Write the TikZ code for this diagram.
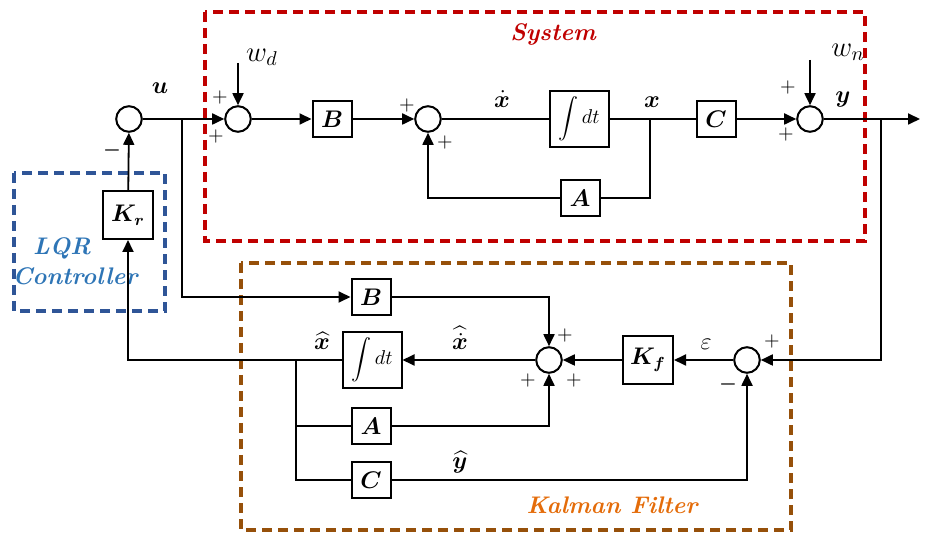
\documentclass[tikz,border=0pt]{standalone}
\usepackage{amsmath,amssymb,bm}
\usepackage{xcolor}
\usetikzlibrary{arrows.meta,positioning}
\definecolor{sysred}{RGB}{192,0,0}
\definecolor{lqrblue}{RGB}{47,85,151}
\definecolor{lqrtext}{RGB}{46,117,182}
\definecolor{kfbrown}{RGB}{150,80,10}
\definecolor{kftext}{RGB}{228,108,10}

\begin{document}
\begin{tikzpicture}[
    x=0.5pt, y=-0.5pt,
    >={Triangle[length=6pt,width=5.5pt]},
    blk/.style={draw, line width=1pt, minimum width=19.5pt, minimum height=18pt,
                inner sep=0pt, font=\large},
    bigblk/.style={blk, minimum width=25pt, minimum height=24pt},
    intblk/.style={blk, minimum width=29.5pt, minimum height=28pt, font=\normalsize},
    sumj/.style={draw, circle, line width=1pt, minimum size=12.8pt, inner sep=0pt},
    sig/.style={line width=0.9pt},
    frame/.style={line width=1.6pt, dash pattern=on 5pt off 3pt},
    sgn/.style={inner sep=0pt, font=\normalsize},
    lbl/.style={inner sep=0pt, font=\large},
    title/.style={inner sep=0pt, font=\large\bfseries\itshape}
]
\useasboundingbox (0,0) rectangle (925,533);

% --- Dashed frames ---
\draw[frame, sysred]  (205,12)  rectangle (865,241);
\draw[frame, lqrblue] (14,173)  rectangle (165,311);
\draw[frame, kfbrown] (241,263) rectangle (791,530);
\node[title, text=sysred]  (tsys) at (553,34)  {System};
\node[title, text=lqrtext] (tlqr) at (62,248)  {LQR};
\node[title, text=lqrtext] (tctl) at (75,276)  {Controller};
\node[title, text=kftext]  (tkf)  at (612,505) {Kalman Filter};

% --- System (upper row) ---
\node[sumj]   (sum1)  at (129,119) {};
\node[sumj]   (sum2)  at (238,119) {};
\node[blk]    (B)     at (332,119) {$\boldsymbol{B}$};
\node[sumj]   (sum3)  at (428,119) {};
\node[intblk] (integ) at (579,119) {$\displaystyle\int dt$};
\node[blk]    (A)     at (580,198) {$\boldsymbol{A}$};
\node[blk]    (C)     at (716,119) {$\boldsymbol{C}$};
\node[sumj]   (sum4)  at (810,119) {};

\coordinate (usplit) at (182,119);
\coordinate (xsplit) at (650,119);
\coordinate (ysplit) at (881,119);
\coordinate (yout)   at (920,119);
\coordinate (wdin)   at (238,63);
\coordinate (wnin)   at (810,60);

% --- LQR controller ---
\node[bigblk] (Kr) at (128,215) {$\boldsymbol{K_r}$};

% --- Kalman filter (lower part) ---
\node[blk]    (B2)   at (371,297) {$\boldsymbol{B}$};
\node[intblk] (int2) at (372,360) {$\displaystyle\int dt$};
\node[blk]    (A2)   at (371,426) {$\boldsymbol{A}$};
\node[blk]    (C2)   at (371,480) {$\boldsymbol{C}$};
\node[sumj]   (sum6) at (549,360) {};
\node[bigblk] (Kf)   at (648,360) {$\boldsymbol{K_f}$};
\node[sumj]   (sum7) at (747,360) {};

\coordinate (xhsplit) at (296,360);

% Forward path
\draw[sig] (sum1) -- (usplit);
\draw[sig,->] (usplit) -- (sum2);
\draw[sig,->] (wdin) -- (sum2);
\draw[sig,->] (sum2) -- (B);
\draw[sig,->] (B) -- (sum3);
\draw[sig] (sum3) -- (integ);
\draw[sig] (integ) -- (C);
\draw[sig,->] (C) -- (sum4);
\draw[sig,->] (wnin) -- (sum4);
\draw[sig,->] (sum4) -- (yout);
\draw[sig] (xsplit) |- (A);
\draw[sig,->] (A) -| (sum3);

% Estimator paths
\draw[sig,->] (usplit) |- (B2);
\draw[sig,->] (ysplit) |- (sum7);
\draw[sig,->] (sum7) -- (Kf);
\draw[sig,->] (Kf) -- (sum6);
\draw[sig,->] (sum6) -- (int2);
\draw[sig,->] (B2) -| (sum6);
\draw[sig,->] (A2) -| (sum6);
\draw[sig,->] (C2) -| (sum7);
\draw[sig,->] (int2) -| (Kr);
\draw[sig,->] (Kr) -- (sum1);
\draw[sig] (xhsplit) |- (C2);
\draw[sig] (xhsplit |- A2) -- (A2);

% Signal labels
\node[lbl] (lu)   at (160,88)  {$\boldsymbol{u}$};
\node[lbl, font=\Large] (lwd) at (262,57) {$w_d$};
\node[lbl, font=\Large] (lwn) at (848,52) {$w_n$};
\node[lbl] (lxd)  at (502,99)  {$\dot{\boldsymbol{x}}$};
\node[lbl] (lx)   at (652,102) {$\boldsymbol{x}$};
\node[lbl] (ly)   at (843,100) {$\boldsymbol{y}$};
\node[lbl] (lxh)  at (322,341) {$\widehat{\boldsymbol{x}}$};
\node[lbl] (lxhd) at (460,338) {$\widehat{\dot{\boldsymbol{x}}}$};
\node[lbl] (lyh)  at (460,462) {$\widehat{\boldsymbol{y}}$};
\node[lbl] (leps) at (706,344) {$\varepsilon$};

% Signs at the junctions
\node[sgn] at (220,98)  {$+$};
\node[sgn] at (216,137) {$+$};
\node[sgn] at (407,106) {$+$};
\node[sgn] at (445,143) {$+$};
\node[sgn] at (788,88)  {$+$};
\node[sgn] at (786,135) {$+$};
\node[sgn] at (112,151) {$\boldsymbol{-}$};
\node[sgn] at (565,336) {$+$};
\node[sgn] at (528,381) {$+$};
\node[sgn] at (574,381) {$+$};
\node[sgn] at (772,342) {$+$};
\node[sgn] at (728,385) {$\boldsymbol{-}$};

\end{tikzpicture}
\end{document}
